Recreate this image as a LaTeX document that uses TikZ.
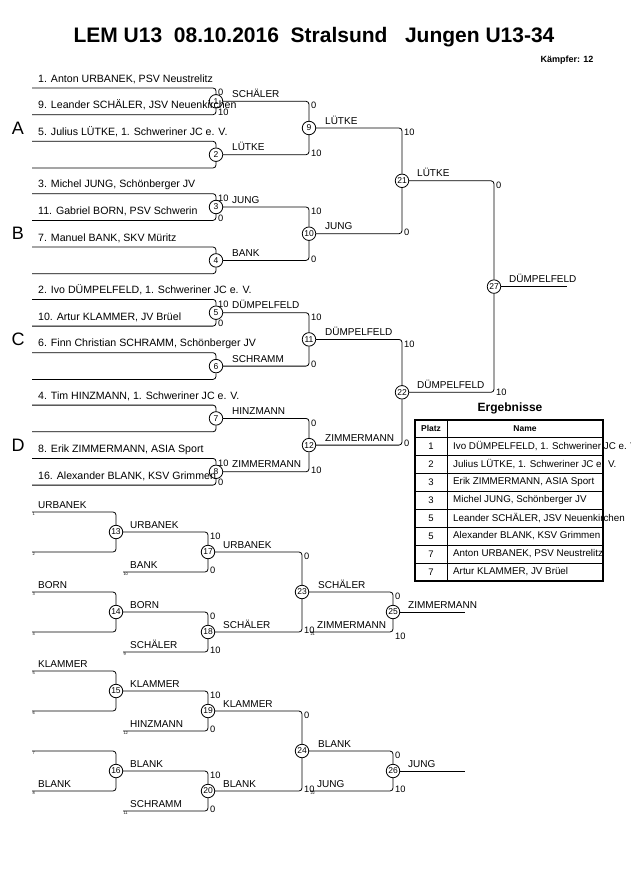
\documentclass[tikz,border=0pt]{standalone}
\usepackage{fontspec}
\setmainfont{Liberation Sans}
\usetikzlibrary{positioning,calc}

\tikzset{
    fight/.style={circle, draw, line width=0.8pt, minimum size=13.5pt, inner sep=0pt, font=\fontsize{8.5}{8.5}\selectfont},
    bracket/.style={line width=0.8pt, rounded corners=3pt},
    entrant/.style={anchor=base west, inner sep=0pt, font=\fontsize{10.6}{12}\selectfont},
    winner/.style={anchor=base west, inner sep=0pt, font=\fontsize{10}{12}\selectfont},
    score/.style={inner sep=0.5pt, font=\fontsize{9.3}{10}\selectfont},
    seed/.style={anchor=north west, inner sep=0.3pt, font=\fontsize{4}{4}\selectfont},
    poolname/.style={font=\fontsize{18}{20}\selectfont},
}

\begin{document}
\begin{tikzpicture}[x=1pt,y=-1pt]
    \useasboundingbox (0,0) rectangle (630,891);
    \clip (0,0) rectangle (630,891);

    % Title
    \node [font=\bfseries\fontsize{21}{24}\selectfont] (title) at (314,37) {LEM U13\ \ 08.10.2016\ \ Stralsund\ \ \ Jungen U13-34};
    \node [anchor=east, font=\bfseries\fontsize{9}{10}\selectfont] (fighters) at (597,60) {Kämpfer: 12};

    % Fights main bracket
    \node [fight] (m1) at (216,101.3) {1};
    \node [fight] (m2) at (216,154.7) {2};
    \node [fight] (m3) at (216,207) {3};
    \node [fight] (m4) at (216,260.4) {4};
    \node [fight] (m5) at (216,312.7) {5};
    \node [fight] (m6) at (216,366.1) {6};
    \node [fight] (m7) at (216,418.4) {7};
    \node [fight] (m8) at (216,471.8) {8};
    \node [fight] (m9) at (309,128) {9};
    \node [fight] (m10) at (309,233.7) {10};
    \node [fight] (m11) at (309,339.4) {11};
    \node [fight] (m12) at (309,445.1) {12};
    \node [fight] (m21) at (402,180.8) {21};
    \node [fight] (m22) at (402,392.3) {22};
    \node [fight] (m27) at (494,286.6) {27};
    \coordinate (champ) at (567,286.6);

    % Pool A
    \node [poolname] (poolA) at (18,128) {A};
    \coordinate (a1) at (32,88);
    \coordinate (a2) at (32,114.7);
    \coordinate (a3) at (32,141.3);
    \coordinate (a4) at (32,168);
    \node [entrant] (ta1) at (38,82) {1. Anton URBANEK, PSV Neustrelitz};
    \node [entrant] (ta2) at (38,108.7) {9. Leander SCHÄLER, JSV Neuenkirchen};
    \node [entrant] (ta3) at (38,135.3) {5. Julius LÜTKE, 1. Schweriner JC e. V.};

    % Pool B
    \node [poolname] (poolB) at (18,233.7) {B};
    \coordinate (b1) at (32,193.7);
    \coordinate (b2) at (32,220.4);
    \coordinate (b3) at (32,247);
    \coordinate (b4) at (32,273.7);
    \node [entrant] (tb1) at (38,187.7) {3. Michel JUNG, Schönberger JV};
    \node [entrant] (tb2) at (38,214.4) {11. Gabriel BORN, PSV Schwerin};
    \node [entrant] (tb3) at (38,241) {7. Manuel BANK, SKV Müritz};

    % Pool C
    \node [poolname] (poolC) at (18,339.4) {C};
    \coordinate (c1) at (32,299.4);
    \coordinate (c2) at (32,326.1);
    \coordinate (c3) at (32,352.7);
    \coordinate (c4) at (32,379.4);
    \node [entrant] (tc1) at (38,293.4) {2. Ivo DÜMPELFELD, 1. Schweriner JC e. V.};
    \node [entrant] (tc2) at (38,320.1) {10. Artur KLAMMER, JV Brüel};
    \node [entrant] (tc3) at (38,346.7) {6. Finn Christian SCHRAMM, Schönberger JV};

    % Pool D
    \node [poolname] (poolD) at (18,445.1) {D};
    \coordinate (d1) at (32,405.1);
    \coordinate (d2) at (32,431.8);
    \coordinate (d3) at (32,458.4);
    \coordinate (d4) at (32,485.1);
    \node [entrant] (td1) at (38,399.1) {4. Tim HINZMANN, 1. Schweriner JC e. V.};
    \node [entrant] (td3) at (38,452.4) {8. Erik ZIMMERMANN, ASIA Sport};
    \node [entrant] (td4) at (38,479.1) {16. Alexander BLANK, KSV Grimmen};

    % Brackets
    \draw [bracket] (a1) -| (m1);  \draw [bracket] (a2) -| (m1);
    \draw [bracket] (a3) -| (m2);  \draw [bracket] (a4) -| (m2);
    \draw [bracket] (b1) -| (m3);  \draw [bracket] (b2) -| (m3);
    \draw [bracket] (b3) -| (m4);  \draw [bracket] (b4) -| (m4);
    \draw [bracket] (c1) -| (m5);  \draw [bracket] (c2) -| (m5);
    \draw [bracket] (c3) -| (m6);  \draw [bracket] (c4) -| (m6);
    \draw [bracket] (d1) -| (m7);  \draw [bracket] (d2) -| (m7);
    \draw [bracket] (d3) -| (m8);  \draw [bracket] (d4) -| (m8);
    \draw [bracket] (m1) -| (m9);  \draw [bracket] (m2) -| (m9);
    \draw [bracket] (m3) -| (m10); \draw [bracket] (m4) -| (m10);
    \draw [bracket] (m5) -| (m11); \draw [bracket] (m6) -| (m11);
    \draw [bracket] (m7) -| (m12); \draw [bracket] (m8) -| (m12);
    \draw [bracket] (m9) -| (m21); \draw [bracket] (m10) -| (m21);
    \draw [bracket] (m11) -| (m22); \draw [bracket] (m12) -| (m22);
    \draw [bracket] (m21) -| (m27); \draw [bracket] (m22) -| (m27);
    \draw [bracket] (m27) -- (champ);

    % Winners
    \node [winner] (w1) at (232,97.3) {SCHÄLER};
    \node [winner] (w2) at (232,150.7) {LÜTKE};
    \node [winner] (w3) at (232,203) {JUNG};
    \node [winner] (w4) at (232,256.4) {BANK};
    \node [winner] (w5) at (232,308.7) {DÜMPELFELD};
    \node [winner] (w6) at (232,362.1) {SCHRAMM};
    \node [winner] (w7) at (232,414.4) {HINZMANN};
    \node [winner] (w8) at (232,467.8) {ZIMMERMANN};
    \node [winner] (w9) at (325,124) {LÜTKE};
    \node [winner] (w10) at (325,229.7) {JUNG};
    \node [winner] (w11) at (325,335.4) {DÜMPELFELD};
    \node [winner] (w12) at (325,441.1) {ZIMMERMANN};
    \node [winner] (w21) at (417,176.8) {LÜTKE};
    \node [winner] (w22) at (417,388.3) {DÜMPELFELD};
    \node [winner] (w27) at (509,282.6) {DÜMPELFELD};

    % Scores
    \node [score, anchor=north west] (s1t) at (217.5,88.5) {0};
    \node [score, anchor=west] (s1b) at (217.5,112.2) {10};
    \node [score, anchor=north west] (s3t) at (217.5,194.2) {10};
    \node [score, anchor=west] (s3b) at (217.5,217.9) {0};
    \node [score, anchor=north west] (s5t) at (217.5,299.9) {10};
    \node [score, anchor=west] (s5b) at (217.5,323.6) {0};
    \node [score, anchor=north west] (s8t) at (217.5,458.9) {10};
    \node [score, anchor=west] (s8b) at (217.5,482.6) {0};
    \node [score, anchor=north west] (s9t) at (310.5,101.8) {0};
    \node [score, anchor=west] (s9b) at (310.5,153.2) {10};
    \node [score, anchor=north west] (s10t) at (310.5,207.5) {10};
    \node [score, anchor=west] (s10b) at (310.5,258.9) {0};
    \node [score, anchor=north west] (s11t) at (310.5,313.2) {10};
    \node [score, anchor=west] (s11b) at (310.5,364.6) {0};
    \node [score, anchor=north west] (s12t) at (310.5,418.9) {0};
    \node [score, anchor=west] (s12b) at (310.5,470.3) {10};
    \node [score, anchor=north west] (s21t) at (403.5,128.5) {10};
    \node [score, anchor=west] (s21b) at (403.5,232.2) {0};
    \node [score, anchor=north west] (s22t) at (403.5,339.9) {10};
    \node [score, anchor=west] (s22b) at (403.5,443.6) {0};
    \node [score, anchor=north west] (s27t) at (495.5,181.3) {0};
    \node [score, anchor=west] (s27b) at (495.5,392.3) {10};

    % Results
    \node [font=\bfseries\fontsize{12}{14}\selectfont] (results) at (510,408) {Ergebnisse};
    \draw [line width=0.6pt] (415,437) -- (603,437);
    \foreach \y in {455,473,...,563}
        \draw [line width=0.6pt] (415,\y) -- (603,\y);
    \draw [line width=0.6pt] (447,420) -- (447,581);
    \node [font=\bfseries\fontsize{8.5}{10}\selectfont] (platz) at (431,428.5) {Platz};
    \node [font=\bfseries\fontsize{8.5}{10}\selectfont] (name) at (525,428.5) {Name};
    \foreach \p/\n [count=\k] in {1/{Ivo DÜMPELFELD, 1. Schweriner JC e. V.},
            2/{Julius LÜTKE, 1. Schweriner JC e. V.}, 3/{Erik ZIMMERMANN, ASIA Sport},
            3/{Michel JUNG, Schönberger JV}, 5/{Leander SCHÄLER, JSV Neuenkirchen},
            5/{Alexander BLANK, KSV Grimmen}, 7/{Anton URBANEK, PSV Neustrelitz},
            7/{Artur KLAMMER, JV Brüel}} {
        \node [font=\fontsize{9.5}{11}\selectfont] (place\k) at (431,428+18*\k) {\p};
        \node [anchor=west, inner sep=0pt, font=\fontsize{9.8}{11}\selectfont] (person\k) at (453,428+18*\k) {\n};
    }
    \draw [line width=1.6pt] (415,420) rectangle (603,581);

    % Repechage upper
    \node [fight] (m13) at (116,532) {13};
    \node [fight] (m14) at (116,612) {14};
    \node [fight] (m17) at (208,552) {17};
    \node [fight] (m18) at (208,632) {18};
    \node [fight] (m23) at (302,592) {23};
    \node [fight] (m25) at (393,612) {25};
    \coordinate (r1) at (32,512);
    \coordinate (r2) at (32,552);
    \coordinate (r3) at (32,592);
    \coordinate (r4) at (32,632);
    \coordinate (r10) at (123,572);
    \coordinate (r9) at (123,652);
    \coordinate (r21) at (310,632);
    \coordinate (bronzeA) at (465,612);
    \draw [bracket] (r1) -| (m13);  \draw [bracket] (r2) -| (m13);
    \draw [bracket] (r3) -| (m14);  \draw [bracket] (r4) -| (m14);
    \draw [bracket] (m13) -| (m17); \draw [bracket] (r10) -| (m17);
    \draw [bracket] (m14) -| (m18); \draw [bracket] (r9) -| (m18);
    \draw [bracket] (m17) -| (m23); \draw [bracket] (m18) -| (m23);
    \draw [bracket] (m23) -| (m25); \draw [bracket] (r21) -| (m25);
    \draw [bracket] (m25) -- (bronzeA);
    \node [seed] (n1) at (r1) {1};
    \node [seed] (n2) at (r2) {2};
    \node [seed] (n3) at (r3) {3};
    \node [seed] (n4) at (r4) {4};
    \node [seed] (n10) at (r10) {10};
    \node [seed] (n9) at (r9) {9};
    \node [seed] (n21) at (r21) {21};
    \node [winner] (e1) at (38,508) {URBANEK};
    \node [winner] (e3) at (38,588) {BORN};
    \node [winner] (e10) at (130,568) {BANK};
    \node [winner] (e9) at (130,648) {SCHÄLER};
    \node [winner] (e21) at (317,628) {ZIMMERMANN};
    \node [winner] (w13) at (130,528) {URBANEK};
    \node [winner] (w14) at (130,608) {BORN};
    \node [winner] (w17) at (223,548) {URBANEK};
    \node [winner] (w18) at (223,628) {SCHÄLER};
    \node [winner] (w23) at (318,588) {SCHÄLER};
    \node [winner] (w25) at (408,608) {ZIMMERMANN};
    \node [score, anchor=north west] (s17t) at (209.5,532.5) {10};
    \node [score, anchor=west] (s17b) at (209.5,570.5) {0};
    \node [score, anchor=north west] (s18t) at (209.5,612.5) {0};
    \node [score, anchor=west] (s18b) at (209.5,650.5) {10};
    \node [score, anchor=north west] (s23t) at (303.5,552.5) {0};
    \node [score, anchor=west] (s23b) at (303.5,630.5) {10};
    \node [score, anchor=north west] (s25t) at (394.5,592.5) {0};
    \node [score, anchor=north west] (s25b) at (394.5,632.5) {10};

    % Repechage lower
    \node [fight] (m15) at (116,691) {15};
    \node [fight] (m16) at (116,771) {16};
    \node [fight] (m19) at (208,711) {19};
    \node [fight] (m20) at (208,791) {20};
    \node [fight] (m24) at (302,751) {24};
    \node [fight] (m26) at (393,771) {26};
    \coordinate (r5) at (32,671);
    \coordinate (r6) at (32,711);
    \coordinate (r7) at (32,751);
    \coordinate (r8) at (32,791);
    \coordinate (r12) at (123,731);
    \coordinate (r11) at (123,811);
    \coordinate (r22) at (310,791);
    \coordinate (bronzeB) at (465,771);
    \draw [bracket] (r5) -| (m15);  \draw [bracket] (r6) -| (m15);
    \draw [bracket] (r7) -| (m16);  \draw [bracket] (r8) -| (m16);
    \draw [bracket] (m15) -| (m19); \draw [bracket] (r12) -| (m19);
    \draw [bracket] (m16) -| (m20); \draw [bracket] (r11) -| (m20);
    \draw [bracket] (m19) -| (m24); \draw [bracket] (m20) -| (m24);
    \draw [bracket] (m24) -| (m26); \draw [bracket] (r22) -| (m26);
    \draw [bracket] (m26) -- (bronzeB);
    \node [seed] (n5) at (r5) {5};
    \node [seed] (n6) at (r6) {6};
    \node [seed] (n7) at (r7) {7};
    \node [seed] (n8) at (r8) {8};
    \node [seed] (n12) at (r12) {12};
    \node [seed] (n11) at (r11) {11};
    \node [seed] (n22) at (r22) {22};
    \node [winner] (e5) at (38,667) {KLAMMER};
    \node [winner] (e8) at (38,787) {BLANK};
    \node [winner] (e12) at (130,727) {HINZMANN};
    \node [winner] (e11) at (130,807) {SCHRAMM};
    \node [winner] (e22) at (317,787) {JUNG};
    \node [winner] (w15) at (130,687) {KLAMMER};
    \node [winner] (w16) at (130,767) {BLANK};
    \node [winner] (w19) at (223,707) {KLAMMER};
    \node [winner] (w20) at (223,787) {BLANK};
    \node [winner] (w24) at (318,747) {BLANK};
    \node [winner] (w26) at (408,767) {JUNG};
    \node [score, anchor=north west] (s19t) at (209.5,691.5) {10};
    \node [score, anchor=west] (s19b) at (209.5,729.5) {0};
    \node [score, anchor=north west] (s20t) at (209.5,771.5) {10};
    \node [score, anchor=west] (s20b) at (209.5,809.5) {0};
    \node [score, anchor=north west] (s24t) at (303.5,711.5) {0};
    \node [score, anchor=west] (s24b) at (303.5,789.5) {10};
    \node [score, anchor=north west] (s26t) at (394.5,751.5) {0};
    \node [score, anchor=west] (s26b) at (394.5,789.5) {10};

\end{tikzpicture}
\end{document}
